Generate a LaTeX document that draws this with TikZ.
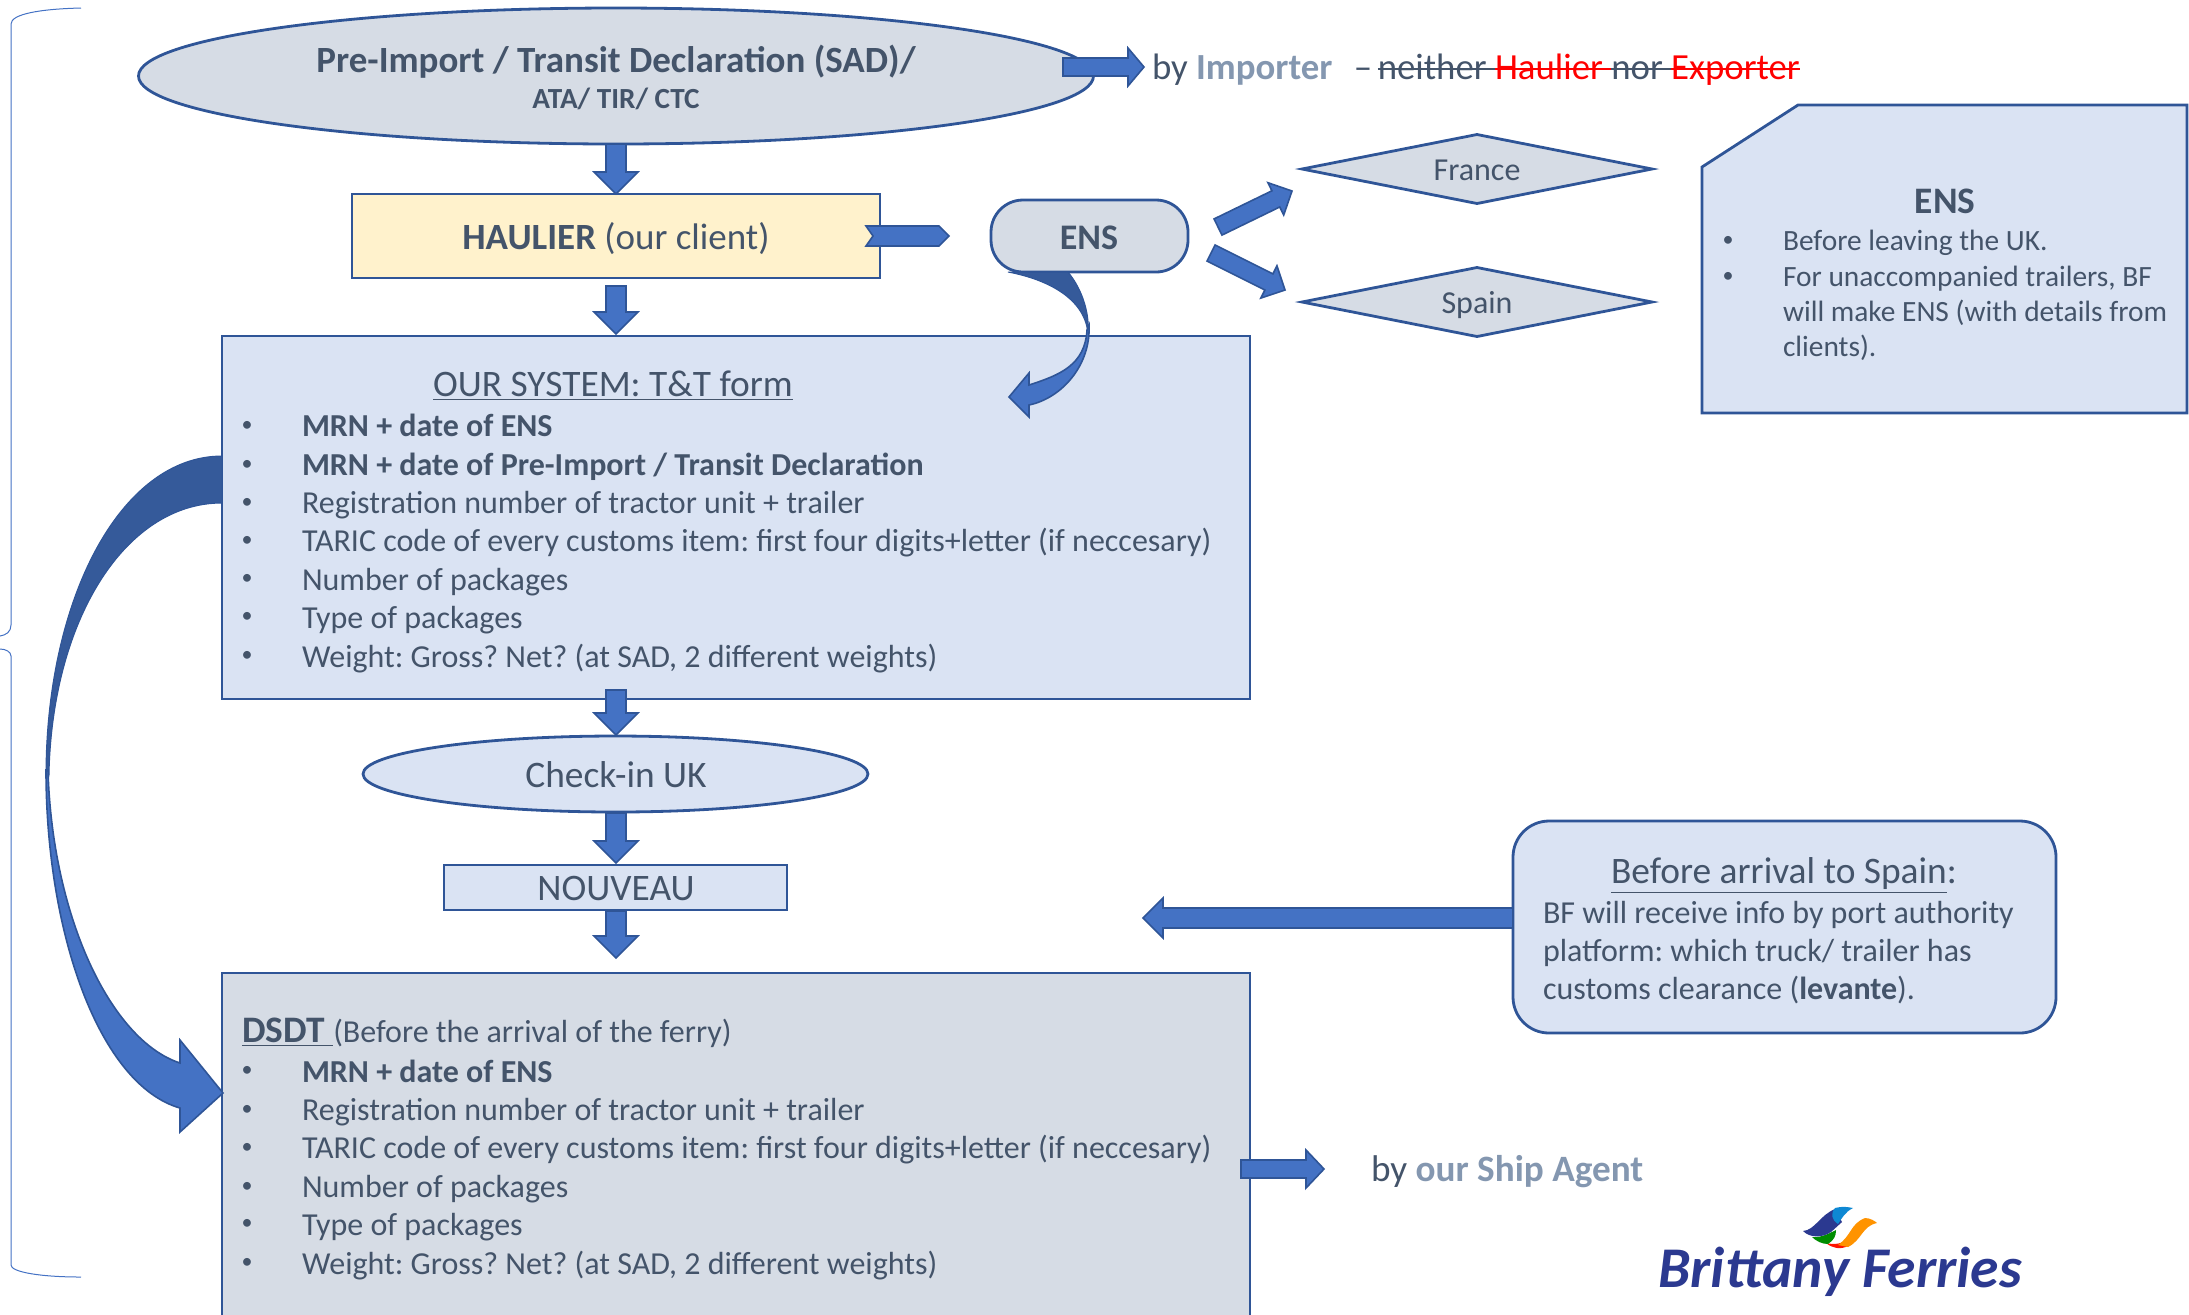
\documentclass[tikz,border=0pt]{standalone}
\usepackage{fontspec}
\setmainfont{Carlito}
\frenchspacing
\usetikzlibrary{calc,shapes.geometric}
\definecolor{inkc}{HTML}{44546A}
\definecolor{linec}{HTML}{2F5597}
\definecolor{bluef}{HTML}{DAE3F3}
\definecolor{greyf}{HTML}{D6DCE5}
\definecolor{yelf}{HTML}{FFF2CC}
\definecolor{arrf}{HTML}{4472C4}
\definecolor{arrd}{HTML}{355A9A}
\definecolor{softb}{HTML}{8497B0}
\definecolor{logob}{HTML}{2B3990}
\tikzset{
  x=0.5pt,y=-0.5pt,
  shapebox/.style={draw=linec,line width=1.4pt,inner sep=0pt,outer sep=0pt,text=inkc},
  blockarr/.style={draw=linec,line width=0.8pt,fill=arrf,line join=miter},
  darkarr/.style={draw=linec,line width=0.5pt,fill=arrd},
  lab/.style={text=inkc,inner sep=0pt,outer sep=0pt,font=\fontsize{16}{19}\selectfont},
  leftlab/.style={lab,anchor=base west},
  notelab/.style={leftlab,font=\fontsize{14.7}{18}\selectfont},
  biglab/.style={lab,font=\fontsize{18.7}{22}\selectfont},
  bullab/.style={lab,font=\fontsize{11}{13}\selectfont},
  brc/.style={draw=arrf,line width=0.5pt},
}
\newcommand{\blockarrow}[5]{%
  \path[blockarr] let \p1=#1,\p2=#2,\n1={atan2(\y2-\y1,\x2-\x1)},\n2={veclen(\x2-\x1,\y2-\y1)} in
    [shift={(\x1,\y1)},rotate=\n1]
    (0pt,{-#3*0.5pt}) -- ({\n2*1pt-#5*0.5pt},{-#3*0.5pt}) -- ({\n2*1pt-#5*0.5pt},{-#4*0.5pt}) --
    ({\n2*1pt},0pt) -- ({\n2*1pt-#5*0.5pt},{#4*0.5pt}) -- ({\n2*1pt-#5*0.5pt},{#3*0.5pt}) -- (0pt,{#3*0.5pt}) -- cycle;}
\newcommand{\bul}[2]{\node[bullab] at (#1,#2) {•};}
\newcommand{\strk}[1]{\sbox0{#1}\rlap{\rule[0.24em]{\wd0}{0.07em}}#1}
\begin{document}
\begin{tikzpicture}
\useasboundingbox (0,0) rectangle (2189,1314);
% brace
\draw[brc] (81,8) .. controls (40,9) and (11,14) .. (11,24) -- (11,625) .. controls (11,632) and (6,635) .. (0,636);
\draw[brc] (0,649) .. controls (6,649) and (11,652) .. (11,656) -- (11,1265) .. controls (11,1272) and (40,1277) .. (81,1277);
% boxes
\node[shapebox,fill=greyf,ellipse,minimum width=477.5pt,minimum height=68pt] (preimport) at (616,76) {};
\node[shapebox,fill=yelf,minimum width=264pt,minimum height=42pt] (haulier) at (616,236) {};
\node[shapebox,fill=greyf,rounded corners=16pt,minimum width=98.5pt,minimum height=36pt] (ens) at (1089.5,236) {};
\node[shapebox,fill=greyf,diamond,aspect=5.1,minimum width=175pt,minimum height=34.5pt] (france) at (1477,169) {};
\node[shapebox,fill=greyf,diamond,aspect=5.1,minimum width=175pt,minimum height=34.5pt] (spain) at (1477,302) {};
\node[shapebox,fill=bluef,anchor=north west,minimum width=514pt,minimum height=181.5pt] (system) at (222,336) {};
\node[shapebox,fill=bluef,ellipse,minimum width=252.5pt,minimum height=38pt] (checkin) at (615.5,774) {};
\node[shapebox,fill=bluef,minimum width=171.5pt,minimum height=22.5pt] (nouveau) at (615.5,887.5) {};
\node[shapebox,fill=greyf,anchor=north west,minimum width=514pt,minimum height=172pt] (dsdt) at (222,973) {};
\node[shapebox,fill=bluef,rounded corners=18pt,minimum width=271.5pt,minimum height=106pt] (before) at (1784.5,927) {};
\path[shapebox,fill=bluef] (1798,105) -- (2187,105) -- (2187,413) -- (1702,413) -- (1702,167) -- cycle;
% straight block arrows
\coordinate (a1) at (1063,67); \coordinate (a2) at (1144,67);
\blockarrow{(a1)}{(a2)}{9}{19}{16}
\blockarrow{(preimport.south)}{(haulier.north)}{10}{22}{22}
\coordinate (b1) at (616,286); \coordinate (b2) at (616,334);
\blockarrow{(b1)}{(b2)}{10}{22}{22}
\path[blockarr] (866,226) -- (939,226) -- (949,236) -- (939,246) -- (866,246) -- (873,236) -- cycle;
\coordinate (c1) at (1218,227); \coordinate (c2) at (1292,191);
\blockarrow{(c1)}{(c2)}{9}{18}{18}
\coordinate (d1) at (1211,253); \coordinate (d2) at (1285,290);
\blockarrow{(d1)}{(d2)}{9}{18}{18}
\coordinate (e1) at (616,690); \coordinate (e2) at (616,735);
\blockarrow{(e1)}{(e2)}{10}{22}{22}
\coordinate (f1) at (616,813); \coordinate (f2) at (616,863);
\blockarrow{(f1)}{(f2)}{10}{22}{22}
\coordinate (g1) at (616,911); \coordinate (g2) at (616,958);
\blockarrow{(g1)}{(g2)}{10}{22}{22}
\coordinate (h1) at (1513,918); \coordinate (h2) at (1143,918);
\blockarrow{(h1)}{(h2)}{10}{20}{20}
\coordinate (i1) at (1241,1169); \coordinate (i2) at (1324,1169);
\blockarrow{(i1)}{(i2)}{9}{19}{18}
% curved arrow ENS -> system
\path[darkarr] (1008,272) .. controls (1050,280) and (1086,300) .. (1088,335) .. controls (1090,315) and (1083,290) .. (1068,272) -- cycle;
\path[blockarr] (1089,325) .. controls (1091,365) and (1062,398) .. (1029,405) -- (1029,417) -- (1009,397) -- (1029,373) -- (1029,385) .. controls (1060,375) and (1085,365) .. (1087,330) -- cycle;
% curved arrow system -> dsdt
\path[darkarr] (222,456) .. controls (120,456) and (46,600) .. (46,775) .. controls (47,780) and (48,780) .. (49,775) .. controls (52,620) and (125,503) .. (222,503) -- cycle;
\path[blockarr] (46,770) .. controls (46,935) and (100,1085) .. (180,1108) -- (180,1132) -- (223,1093) -- (180,1040) -- (180,1063) .. controls (110,1040) and (52,915) .. (48,770) -- cycle;
% texts
\node[lab,font=\fontsize{18.5}{22}\selectfont\bfseries] (t1) at (616,62) {Pre-Import / Transit Declaration (SAD)/};
\node[lab,font=\fontsize{14.6}{17}\selectfont\bfseries] (t2) at (616,99) {ATA/ TIR/ CTC};
\node[leftlab,font=\fontsize{18.4}{22}\selectfont] (t3) at (1152,79) {by \textcolor{softb}{\textbf{Importer}}\hspace{0.36em} –\hspace{0.15em}\strk{neither }\textcolor{red}{\strk{Haulier }}\strk{nor }\textcolor{red}{\strk{Exporter}}};
\node[lab,font=\fontsize{18.5}{22}\selectfont] (t4) at (616,239) {\textbf{HAULIER} (our client)};
\node[lab,font=\fontsize{18}{22}\selectfont\bfseries] (t5) at (1089,238) {ENS};
\node[lab] (t6) at (1477,170) {France};
\node[lab] (t7) at (1477,305) {Spain};
\node[biglab,font=\fontsize{18.7}{22}\selectfont\bfseries] (t8) at (1945,201) {ENS};
\bul{1728}{241}\bul{1728}{277}
\node[notelab] (t9) at (1783,250) {Before leaving the UK.};
\node[notelab] (t10) at (1783,286) {For unaccompanied trailers, BF};
\node[notelab] (t11) at (1783,321) {will make ENS (with details from};
\node[notelab] (t12) at (1783,356) {clients).};
\node[biglab] (t13) at (613,386) {\underline{OUR SYSTEM: T\&T form}};
\foreach \yy in {426,465,503,541,579,617,656} {\bul{247}{\yy}}
\node[leftlab] (s1) at (302,436) {\textbf{MRN + date of ENS}};
\node[leftlab] (s2) at (302,475) {\textbf{MRN + date of Pre-Import / Transit Declaration}};
\node[leftlab] (s3) at (302,513) {Registration number of tractor unit + trailer};
\node[leftlab] (s4) at (302,551) {TARIC code of every customs item: first four digits+letter (if neccesary)};
\node[leftlab] (s5) at (302,590) {Number of packages};
\node[leftlab] (s6) at (302,628) {Type of packages};
\node[leftlab] (s7) at (302,667) {Weight: Gross? Net? (at SAD, 2 different weights)};
\node[biglab] (t14) at (616,775) {Check-in UK};
\node[biglab] (t15) at (616,888) {NOUVEAU};
\node[leftlab] (t16) at (242,1042) {\textbf{\fontsize{18.7}{22}\selectfont\underline{DSDT\ }}(Before the arrival of the ferry)};
\foreach \yy in {1071,1110,1148,1187,1224,1263} {\bul{247}{\yy}}
\node[leftlab] (d1t) at (302,1082) {\textbf{MRN + date of ENS}};
\node[leftlab] (d2t) at (302,1120) {Registration number of tractor unit + trailer};
\node[leftlab] (d3t) at (302,1158) {TARIC code of every customs item: first four digits+letter (if neccesary)};
\node[leftlab] (d4t) at (302,1197) {Number of packages};
\node[leftlab] (d5t) at (302,1235) {Type of packages};
\node[leftlab] (d6t) at (302,1274) {Weight: Gross? Net? (at SAD, 2 different weights)};
\node[biglab] (t17) at (1784,876) {\underline{Before arrival to Spain}:};
\node[leftlab] (t18) at (1543,923) {BF will receive info by port authority};
\node[leftlab] (t19) at (1543,961) {platform: which truck/ trailer has};
\node[leftlab] (t20) at (1543,999) {customs clearance (\textbf{levante}).};
\node[leftlab,font=\fontsize{18.6}{22}\selectfont] (t21) at (1371,1181) {by \textcolor{softb}{\textbf{our Ship Agent}}};
% logo
\fill[red!85!orange] (1826,1243) .. controls (1835,1245) and (1842,1244) .. (1850,1238) -- (1848,1246) .. controls (1840,1250) and (1832,1248) .. (1826,1243) -- cycle;
\fill[orange!85!yellow] (1838,1245) .. controls (1852,1235) and (1850,1224) .. (1865,1218) .. controls (1870,1218) and (1875,1221) .. (1877,1223) .. controls (1862,1226) and (1862,1240) .. (1848,1247) -- cycle;
\fill[green!55!black] (1812,1237) .. controls (1820,1238) and (1828,1234) .. (1836,1230) .. controls (1836,1236) and (1834,1240) .. (1828,1244) .. controls (1822,1244) and (1816,1241) .. (1812,1237) -- cycle;
\fill[logob] (1803,1231) .. controls (1815,1230) and (1820,1215) .. (1835,1209) -- (1842,1222) -- (1831,1232) .. controls (1822,1238) and (1810,1238) .. (1803,1231) -- cycle;
\fill[cyan!70!blue] (1835,1208) .. controls (1842,1206) and (1848,1207) .. (1853,1208) .. controls (1845,1212) and (1842,1218) .. (1838,1224) .. controls (1832,1220) and (1830,1214) .. (1835,1208) -- cycle;
\node[anchor=base,inner sep=0pt,text=logob,font=\fontsize{28.8}{32}\selectfont\bfseries\itshape] (logo) at (1840,1287) {Brittany Ferries};
\end{tikzpicture}
\end{document}
